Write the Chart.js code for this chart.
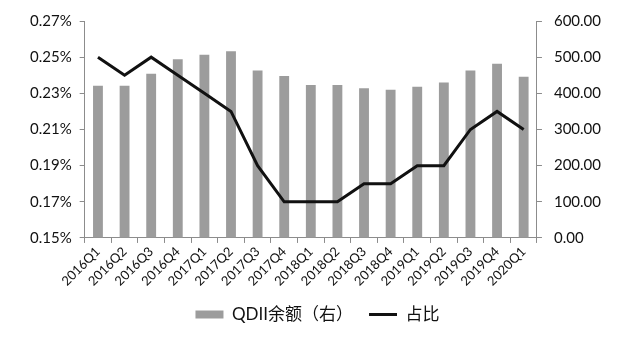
<!DOCTYPE html>
<html>
<head>
<meta charset="utf-8">
<script src="https://cdn.jsdelivr.net/npm/chart.js@4.4.1/dist/chart.umd.min.js"></script>
<style>
	html, body { margin: 0; padding: 0; background: #fff; }
	#wrap { width: 620px; height: 340px; }
</style>
</head>
<body>
<div id="wrap"><canvas id="qdiiChart"></canvas></div>
<script>
const quarters = [ '2016Q1', '2016Q2', '2016Q3', '2016Q4', '2017Q1', '2017Q2', '2017Q3', '2017Q4',
	'2018Q1', '2018Q2', '2018Q3', '2018Q4', '2019Q1', '2019Q2', '2019Q3', '2019Q4', '2020Q1' ]
const qdiiBalance = [ 421, 421, 454, 494, 507, 516, 463, 448, 423, 423, 414, 410, 418, 430, 463, 482, 446 ]
const sharePct = [ 0.25, 0.24, 0.25, 0.24, 0.23, 0.22, 0.19, 0.17, 0.17, 0.17, 0.18, 0.18, 0.19, 0.19, 0.21, 0.22, 0.21 ]

const fontFamily = 'Lato, "Noto Sans CJK SC", sans-serif'
const axisGray = '#8c8c8c'

new Chart( document.getElementById( 'qdiiChart' ), {
	type: 'bar',
	data: {
		labels: quarters,
		datasets: [ {
			label: 'QDII余额（右）',
			data: qdiiBalance,
			yAxisID: 'y1',
			backgroundColor: '#9c9c9c',
			barPercentage: 0.37,
			categoryPercentage: 1,
			pointStyle: 'rect',
			order: 1
		}, {
			type: 'line',
			label: '占比',
			data: sharePct,
			yAxisID: 'y',
			borderColor: '#111',
			backgroundColor: '#111',
			borderWidth: 3,
			pointRadius: 0,
			tension: 0,
			pointStyle: 'line',
			order: 0
		} ]
	},
	options: {
		responsive: true,
		maintainAspectRatio: false,
		animation: false,
		layout: {
			padding: { left: 22, right: 7, top: 13, bottom: 7 }
		},
		plugins: {
			tooltip: { enabled: false },
			legend: {
				position: 'bottom',
				labels: {
					usePointStyle: true,
					pointStyleWidth: 28,
					boxHeight: 8,
					padding: 16,
					color: '#111',
					font: { family: fontFamily, size: 17 },
					sort: (a, b) => a.datasetIndex - b.datasetIndex
				}
			}
		},
		scales: {
			x: {
				grid: {
					display: true,
					drawOnChartArea: false,
					tickLength: 5,
					color: axisGray
				},
				border: { color: axisGray },
				ticks: {
					minRotation: 45,
					maxRotation: 45,
					autoSkip: false,
					padding: 1,
					color: '#111',
					font: { family: fontFamily, size: 13 }
				}
			},
			y: {
				position: 'left',
				min: 0.15,
				max: 0.27,
				grid: {
					drawOnChartArea: false,
					tickLength: 5,
					color: axisGray
				},
				border: { color: axisGray },
				ticks: {
					stepSize: 0.02,
					padding: 8,
					color: '#111',
					font: { family: fontFamily, size: 15 },
					callback: v => v.toFixed( 2 ) + '%'
				}
			},
			y1: {
				position: 'right',
				min: 0,
				max: 600,
				grid: {
					drawOnChartArea: false,
					tickLength: 5,
					color: axisGray
				},
				border: { color: axisGray },
				ticks: {
					stepSize: 100,
					padding: 12,
					color: '#111',
					font: { family: fontFamily, size: 15 },
					callback: v => v.toFixed( 2 )
				}
			}
		}
	}
} )
</script>
</body>
</html>
